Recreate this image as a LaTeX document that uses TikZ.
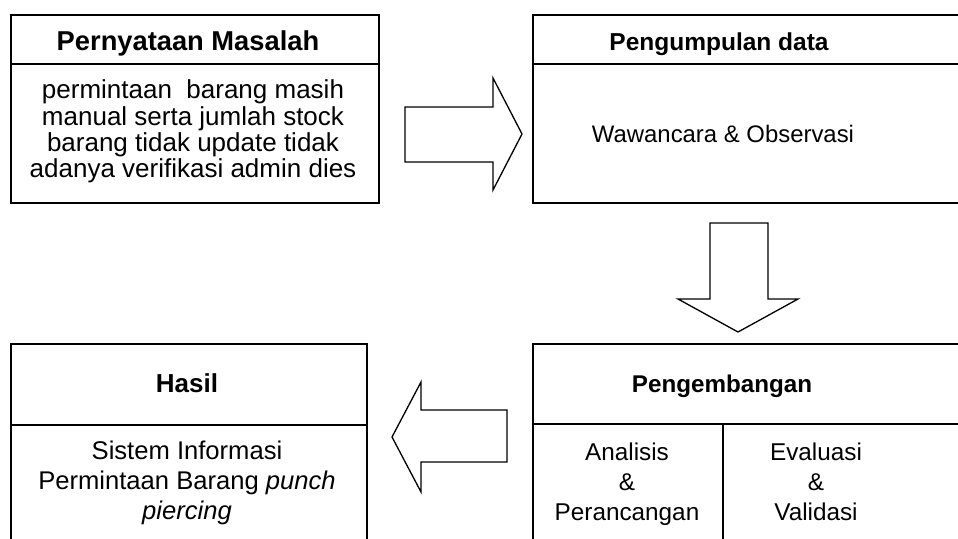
\documentclass[tikz,border=0pt]{standalone}
\usepackage{fontspec}
\setmainfont{Liberation Sans}
\usetikzlibrary{positioning}

\newcommand{\fsz}[2]{\fontsize{#1}{#2}\selectfont}

\begin{document}
\begin{tikzpicture}[
    x=1pt, y=-1pt,
    font=\fsz{24}{26},
    frame/.style={rectangle, draw=black, line width=2pt, inner sep=0pt, anchor=north west},
    headtext/.style={anchor=base, inner sep=0pt},
    bodytext/.style={align=center, inner sep=0pt, anchor=north},
    blockarrow/.style={draw=black, line width=1.3pt, fill=white, line join=miter},
]
    \useasboundingbox (0,0) rectangle (958,538);
    \clip (0,0) rectangle (958,538);

    % ===== Pernyataan Masalah =====
    \node[frame, minimum width=368pt, minimum height=49pt] (masalahHead) at (10,14) {};
    \node[frame, minimum width=368pt, minimum height=139pt] (masalahBody) at (10,63) {};
    \node[headtext, font=\fsz{27.3}{30}\bfseries] (masalahTitle) at (188,50) {Pernyataan Masalah};
    \node[bodytext, font=\fsz{26}{26}] (masalahText) at (193,79) {\strut permintaan\ \ barang masih\\manual serta jumlah stock\\barang tidak update tidak\\adanya verifikasi admin dies};

    % ===== Pengumpulan data =====
    \node[frame, minimum width=470pt, minimum height=49pt] (dataHead) at (532,14) {};
    \node[frame, minimum width=470pt, minimum height=139pt] (dataBody) at (532,63) {};
    \node[headtext, font=\fsz{24.5}{28}\bfseries] (dataTitle) at (719,50) {Pengumpulan data};
    \node[headtext, font=\fsz{23.9}{28}] (dataText) at (723,142) {Wawancara \& Observasi};

    % ===== Pengembangan =====
    \node[frame, minimum width=470pt, minimum height=80pt] (bangHead) at (532,343) {};
    \node[frame, minimum width=190pt, minimum height=150pt] (bangLeft) at (532,423) {};
    \node[frame, minimum width=280pt, minimum height=150pt] (bangRight) at (722,423) {};
    \node[headtext, font=\fsz{24.2}{28}\bfseries] (bangTitle) at (722,392) {Pengembangan};
    \node[bodytext, font=\fsz{24.3}{30}] (bangAnalisis) at (627,439) {\strut Analisis\\\&\\Perancangan};
    \node[bodytext, font=\fsz{24.3}{30}] (bangEvaluasi) at (816,439) {\strut Evaluasi\\\&\\Validasi};

    % ===== Hasil =====
    \node[frame, minimum width=356pt, minimum height=81pt] (hasilHead) at (10,343) {};
    \node[frame, minimum width=356pt, minimum height=150pt] (hasilBody) at (10,424) {};
    \node[headtext, font=\fsz{26}{28}\bfseries] (hasilTitle) at (187,392) {Hasil};
    \node[bodytext, font=\fsz{25.6}{30}] (hasilText) at (187,438) {\strut Sistem Informasi\\Permintaan Barang \textit{punch}\\\textit{piercing}};

    % Block arrows between the stages
    \draw[blockarrow] (405,107) -- (493,107) -- (493,78) -- (522,134) -- (493,190) -- (493,162) -- (405,162) -- cycle;
    \draw[blockarrow] (710,223) -- (768,223) -- (768,299) -- (798,299) -- (738,332) -- (678,299) -- (710,299) -- cycle;
    \draw[blockarrow] (507,410) -- (421,410) -- (421,382) -- (392,437) -- (421,492) -- (421,462) -- (507,462) -- cycle;

\end{tikzpicture}
\end{document}
